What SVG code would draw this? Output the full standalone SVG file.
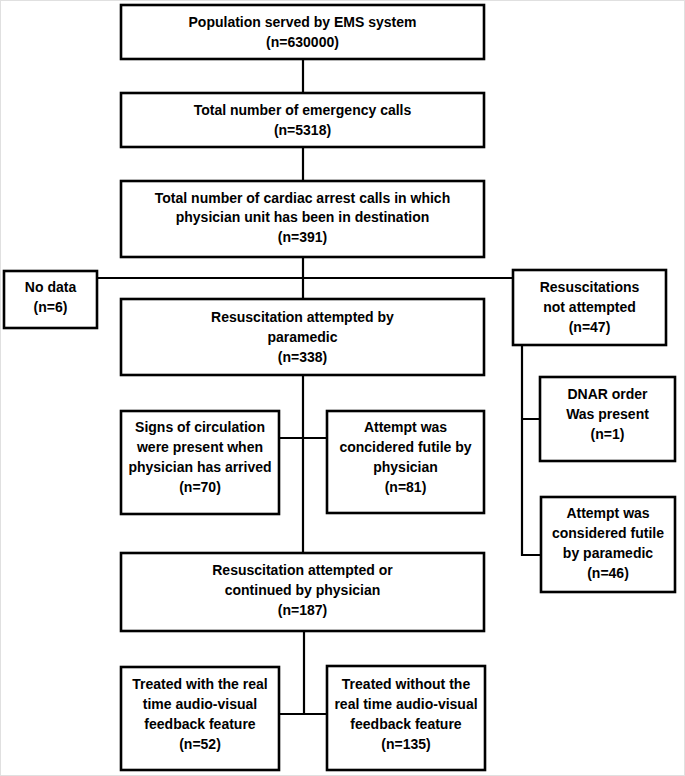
<svg xmlns="http://www.w3.org/2000/svg" width="685" height="776" viewBox="0 0 685 776">
<style>
.box{fill:#fff;stroke:#000;stroke-width:2.6}
.t{font-family:"Liberation Sans",Arial,sans-serif;font-weight:bold;font-size:14px;fill:#000;text-anchor:middle;dominant-baseline:central}
.c{fill:none;stroke:#000;stroke-width:2.2}
</style>
<rect x="0.5" y="0.5" width="684" height="775" fill="#fff" stroke="#e0e0e0" stroke-width="1"/>
<g id="connectors">
<path class="c" d="M303 59V93M303 147V181M303 257V299M97 278H513M303 375V553M279 438H327M522 345V555H541M522 419H540M304 631V714M279 714H327"/>
</g>
<g id="n1"><rect class="box" x="121" y="5" width="363" height="54"/><text class="t" x="302.5" y="22">Population served by EMS system</text><text class="t" x="302.5" y="42">(n=630000)</text></g>
<g id="n2"><rect class="box" x="121" y="93" width="363" height="54"/><text class="t" x="302.5" y="110">Total number of emergency calls</text><text class="t" x="302.5" y="130">(n=5318)</text></g>
<g id="n3"><rect class="box" x="121" y="181" width="363" height="76"/><text class="t" x="302.5" y="198">Total number of cardiac arrest calls in which</text><text class="t" x="302.5" y="217">physician unit has been in destination</text><text class="t" x="302.5" y="237">(n=391)</text></g>
<g id="n4"><rect class="box" x="4" y="271" width="93" height="57"/><text class="t" x="50.5" y="287">No data</text><text class="t" x="50.5" y="307">(n=6)</text></g>
<g id="n5"><rect class="box" x="513" y="270" width="153" height="75"/><text class="t" x="589.5" y="287">Resuscitations</text><text class="t" x="589.5" y="307">not attempted</text><text class="t" x="589.5" y="327">(n=47)</text></g>
<g id="n6"><rect class="box" x="121" y="299" width="363" height="76"/><text class="t" x="302.5" y="317">Resuscitation attempted by</text><text class="t" x="302.5" y="337">paramedic</text><text class="t" x="302.5" y="357">(n=338)</text></g>
<g id="n7"><rect class="box" x="540" y="377" width="135" height="84"/><text class="t" x="607.5" y="394">DNAR order</text><text class="t" x="607.5" y="414">Was present</text><text class="t" x="607.5" y="434">(n=1)</text></g>
<g id="n8"><rect class="box" x="121" y="411" width="158" height="103"/><text class="t" x="200" y="427">Signs of circulation</text><text class="t" x="200" y="447">were present when</text><text class="t" x="200" y="467">physician has arrived</text><text class="t" x="200" y="487">(n=70)</text></g>
<g id="n9"><rect class="box" x="327" y="411" width="157" height="102"/><text class="t" x="405.5" y="427">Attempt was</text><text class="t" x="405.5" y="447">concidered futile by</text><text class="t" x="405.5" y="467">physician</text><text class="t" x="405.5" y="487">(n=81)</text></g>
<g id="n10"><rect class="box" x="541" y="497" width="134" height="95"/><text class="t" x="608" y="513">Attempt was</text><text class="t" x="608" y="533">considered futile</text><text class="t" x="608" y="553">by paramedic</text><text class="t" x="608" y="573">(n=46)</text></g>
<g id="n11"><rect class="box" x="121" y="553" width="363" height="78"/><text class="t" x="302.5" y="570">Resuscitation attempted or</text><text class="t" x="302.5" y="590">continued by physician</text><text class="t" x="302.5" y="610">(n=187)</text></g>
<g id="n12"><rect class="box" x="121" y="667" width="158" height="103"/><text class="t" x="200" y="684">Treated with the real</text><text class="t" x="200" y="704">time audio-visual</text><text class="t" x="200" y="724">feedback feature</text><text class="t" x="200" y="744">(n=52)</text></g>
<g id="n13"><rect class="box" x="327" y="666" width="158" height="104"/><text class="t" x="406" y="684">Treated without the</text><text class="t" x="406" y="704">real time audio-visual</text><text class="t" x="406" y="724">feedback feature</text><text class="t" x="406" y="744">(n=135)</text></g>
</svg>
